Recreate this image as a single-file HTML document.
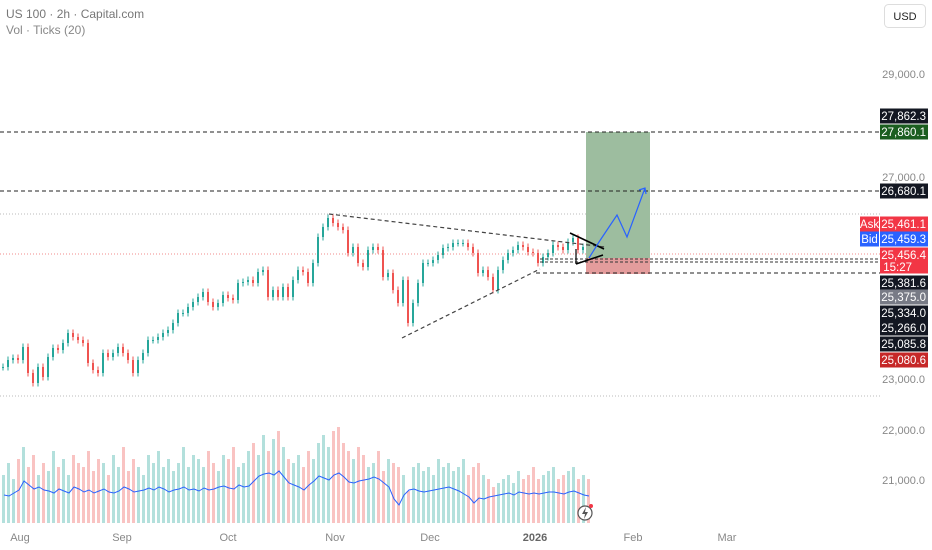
<!DOCTYPE html>
<html><head><meta charset="utf-8"><style>
body{margin:0;background:#fff;font-family:"Liberation Sans",sans-serif;}
#wrap{position:relative;width:932px;height:550px;overflow:hidden;}
svg text{font-family:"Liberation Sans",sans-serif;}
</style></head><body>
<div id="wrap">
<svg id="chart" width="932" height="550">
  <g id="grid">
    <line x1="0" y1="214" x2="880" y2="214" stroke="#bbb" stroke-dasharray="1,2"/>
    <line x1="0" y1="396" x2="880" y2="396" stroke="#bbb" stroke-dasharray="1,2"/>
    <line x1="0" y1="254" x2="880" y2="254" stroke="#f28b8b" stroke-dasharray="1,2"/>
  </g>
  <g id="vol"></g>
  <g id="candles"></g>
  <g>
    <rect x="586" y="132" width="64" height="126" fill="#9dbd9f"/>
    <rect x="586" y="258" width="64" height="16" fill="#e49c9c"/>
    <line x1="0" y1="132" x2="880" y2="132" stroke="#222" stroke-dasharray="4,3"/>
    <line x1="0" y1="191" x2="880" y2="191" stroke="#222" stroke-dasharray="4,3"/>
    <line x1="540" y1="259" x2="880" y2="259" stroke="#333" stroke-dasharray="3,2"/>
    <line x1="540" y1="262" x2="880" y2="262" stroke="#333" stroke-dasharray="3,2"/>
    <line x1="536" y1="273" x2="880" y2="273" stroke="#222" stroke-dasharray="4,3"/>
    <line x1="329" y1="214" x2="605" y2="247" stroke="#444" stroke-dasharray="4,3" stroke-width="1.2"/>
    <line x1="402" y1="338" x2="540" y2="269" stroke="#444" stroke-dasharray="4,3" stroke-width="1.2"/>
    <polyline points="570,233 604,249" stroke="#000" stroke-width="1.6" fill="none"/>
    <polyline points="576,264 603,255" stroke="#000" stroke-width="1.6" fill="none"/>
    <line x1="576" y1="249" x2="576" y2="264" stroke="#000" stroke-width="1.2"/>
    <polyline points="589,258 599,242 617,215 627,237 645,188" stroke="#2962ff" stroke-width="1.2" fill="none"/>
    <polyline points="639,190 645,188 646,194" stroke="#2962ff" stroke-width="1.2" fill="none"/>
  </g>
  <g font-size="11" fill="#888">
    <text x="925" y="78" text-anchor="end">29,000.0</text>
    <text x="925" y="181" text-anchor="end">27,000.0</text>
    <text x="925" y="383" text-anchor="end">23,000.0</text>
    <text x="925" y="434" text-anchor="end">22,000.0</text>
    <text x="925" y="484" text-anchor="end">21,000.0</text>
  </g>
  <g id="labels" font-size="11.5"></g>
  <g font-size="11" fill="#888" text-anchor="middle">
    <text x="20" y="541">Aug</text>
    <text x="122" y="541">Sep</text>
    <text x="228" y="541">Oct</text>
    <text x="335" y="541">Nov</text>
    <text x="430" y="541">Dec</text>
    <text x="535" y="541" font-weight="bold" fill="#666">2026</text>
    <text x="633" y="541">Feb</text>
    <text x="727" y="541">Mar</text>
  </g>
  <g>
    <circle cx="585" cy="513" r="7" fill="#fff" stroke="#555" stroke-width="1.2"/>
    <path d="M586 507 L582 514 L585 514 L584 519 L588 512 L585 512 Z" fill="#555"/>
    <circle cx="591" cy="506" r="2" fill="#f23645"/>
  </g>
  <text x="6" y="18" font-size="12" fill="#777">US 100 · 2h · Capital.com</text>
  <text x="6" y="34" font-size="12" fill="#888">Vol · Ticks (20)</text>
  <rect x="884.5" y="4.5" width="41" height="23" rx="4" fill="#fff" stroke="#ddd"/>
  <text x="905" y="20" font-size="11" fill="#222" text-anchor="middle">USD</text>
</svg>
</div>
<script>
const closes=[23238,23376,23416,23376,23634,23119,22921,23238,23040,23436,23614,23574,23713,23911,23832,23772,23713,23317,23178,23119,23515,23436,23515,23634,23515,23376,23119,23376,23515,23772,23772,23832,23911,23970,24109,24307,24307,24426,24525,24624,24723,24525,24426,24505,24663,24604,24564,24901,24921,24960,24901,25119,25158,24624,24762,24624,24822,24624,24960,25158,25119,24901,25297,25812,26010,26188,26089,26010,25950,25495,25614,25297,25218,25554,25614,25554,25020,25099,24762,24505,24960,24109,24505,24901,25297,25297,25356,25455,25594,25614,25693,25693,25693,25614,25495,25099,25158,25020,24762,25158,25356,25495,25554,25653,25614,25515,25495,25297,25416,25495,25653,25614,25554,25713,25792,25554,25614,25515];
const volumes=[60,75,55,80,95,70,85,60,75,65,90,70,80,60,85,75,70,90,65,80,75,60,85,70,95,65,80,70,60,85,75,90,70,80,65,75,95,70,85,80,70,90,75,65,85,80,95,70,75,90,100,85,110,90,105,115,95,80,75,85,70,90,80,100,110,95,115,120,100,90,80,95,85,70,75,90,65,80,75,70,60,40,70,75,65,70,60,80,70,75,65,70,80,60,70,75,60,55,45,50,55,60,50,65,55,60,70,55,60,65,70,55,60,65,70,55,60,55];
const volMA=[28,27,30,33,42,38,34,36,33,32,30,34,32,30,36,34,31,33,30,32,34,31,30,32,36,34,31,32,33,35,33,36,34,31,33,34,36,33,34,32,35,33,34,36,37,35,34,38,36,37,42,47,49,50,48,52,46,40,38,36,33,38,42,47,45,43,48,50,46,41,40,42,43,44,46,44,40,36,24,18,28,33,34,32,31,32,33,34,35,36,34,32,29,26,20,25,24,26,27,28,29,30,28,31,30,29,30,29,30,31,31,30,29,31,32,30,28,27];
const NS='http://www.w3.org/2000/svg';
const x0=2, step=5;
function xPos(i){return x0+i*step;}
function yPrice(p){return 278-(p-25000)*50.5/1000;}
const volBase=523;
function yVol(v){return volBase-v*0.8;}
function yMA(v){return volBase-v;}
const cg=document.getElementById('candles');
const vg=document.getElementById('vol');
closes.forEach((c,i)=>{
  const o=i?closes[i-1]:c;
  const up=c>=o;
  const col=up?'#26a69a':'#ef5350';
  const x=xPos(i);
  const hi=Math.max(o,c)+70, lo=Math.min(o,c)-70;
  const w=document.createElementNS(NS,'line');
  w.setAttribute('x1',x+1);w.setAttribute('x2',x+1);
  w.setAttribute('y1',yPrice(hi));w.setAttribute('y2',yPrice(lo));
  w.setAttribute('stroke',col);
  
  
  cg.appendChild(w);
  const r=document.createElementNS(NS,'rect');
  r.setAttribute('x',x);r.setAttribute('width',2);
  r.setAttribute('y',yPrice(Math.max(o,c)));
  r.setAttribute('height',Math.max(1,Math.abs(yPrice(o)-yPrice(c))));
  r.setAttribute('fill',col);
  
  
  cg.appendChild(r);
});
volumes.forEach((v,i)=>{
  const up=i?closes[i]>=closes[i-1]:true;
  const r=document.createElementNS(NS,'rect');
  r.setAttribute('x',xPos(i));r.setAttribute('width',3);
  r.setAttribute('y',yVol(v));r.setAttribute('height',volBase-yVol(v));
  r.setAttribute('fill',up?'rgba(38,166,154,0.35)':'rgba(239,83,80,0.35)');
  
  
  vg.appendChild(r);
});
const pl=document.createElementNS(NS,'polyline');
pl.setAttribute('points',volMA.map((v,i)=>(xPos(i)+2)+','+yMA(v)).join(' '));
pl.setAttribute('fill','none');pl.setAttribute('stroke','#2962ff');pl.setAttribute('stroke-width','1');


vg.appendChild(pl);
const lbls=[["27,862.3",116,"#131722"],["27,860.1",132,"#1b5e20"],["26,680.1",191,"#131722"],["25,461.1",224,"#f23645"],["25,459.3",239,"#2962ff"],["25,456.4",255,"#f23645"],["25,381.6",283,"#131722"],["25,375.0",297,"#787b86"],["25,334.0",313,"#131722"],["25,266.0",328,"#131722"],["25,085.8",344,"#131722"],["25,080.6",360,"#c62828"]];
const lg=document.getElementById('labels');
lbls.forEach(l=>{
  const h=l[0]==="25,456.4"?26:15;
  const r=document.createElementNS(NS,'rect');
  r.setAttribute('x',880);r.setAttribute('y',l[1]-7.5);r.setAttribute('width',48);r.setAttribute('height',h);r.setAttribute('fill',l[2]);
  
  
  lg.appendChild(r);
  const t=document.createElementNS(NS,'text');
  t.setAttribute('x',926);t.setAttribute('y',l[1]+4);t.setAttribute('text-anchor','end');t.setAttribute('fill','#fff');
  t.textContent=l[0];
  
  
  lg.appendChild(t);
});
[["Ask",224,"#f23645"],["Bid",239,"#2962ff"]].forEach(a=>{
  const r=document.createElementNS(NS,'rect');
  r.setAttribute('x',860);r.setAttribute('y',a[1]-7.5);r.setAttribute('width',19);r.setAttribute('height',15);r.setAttribute('fill',a[2]);
  
  
  lg.appendChild(r);
  const t=document.createElementNS(NS,'text');
  t.setAttribute('x',869.5);t.setAttribute('y',a[1]+4);t.setAttribute('text-anchor','middle');t.setAttribute('fill','#fff');
  t.textContent=a[0];
  
  
  lg.appendChild(t);
});
const cd=document.createElementNS(NS,'text');
cd.setAttribute('x',912);cd.setAttribute('y',271);cd.setAttribute('text-anchor','end');cd.setAttribute('fill','#fff');
cd.textContent='15:27';


lg.appendChild(cd);
</script>
</body></html>
